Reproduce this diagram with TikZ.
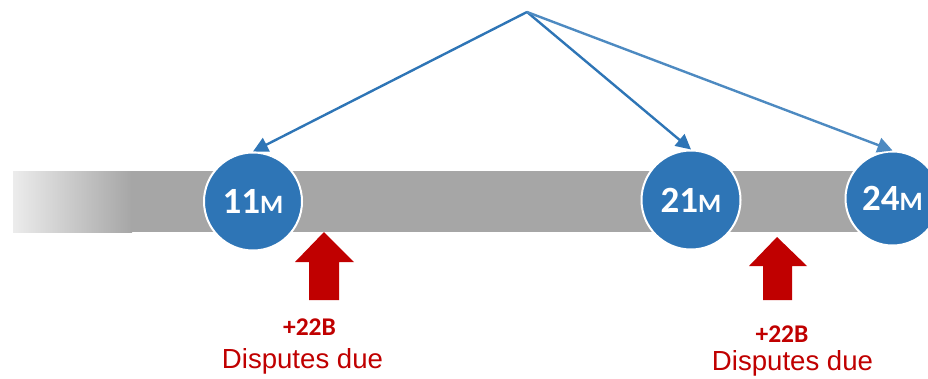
\documentclass[tikz,border=0pt]{standalone}
\usepackage{fontspec}
\setmainfont{Liberation Sans}
\newfontfamily\calib{Carlito}
\usetikzlibrary{arrows.meta}
\definecolor{cblue}{HTML}{2E75B6}
\definecolor{cgray}{HTML}{A6A6A6}
\definecolor{cred}{HTML}{C00000}
\begin{document}
\begin{tikzpicture}[x=1pt,y=-1pt,
  milestone/.style={circle,fill=cblue,draw=white,line width=2pt,inner sep=0pt,
    text=white,font=\calib\bfseries},
  pointer/.style={draw=cblue,line width=2.4pt,-{Triangle[length=15pt,width=15pt]}},
  amount/.style={text=cred,font=\calib\bfseries\fontsize{25.5}{30}\selectfont,anchor=base,inner sep=0pt},
  note/.style={text=cred,font=\fontsize{27.6}{32}\selectfont,anchor=base,inner sep=0pt},
  blockarrow/.style={fill=cred,draw=none}]
\useasboundingbox (0,0) rectangle (928,378);
% timeline bar
\shade[left color=gray!15,right color=cgray,shading angle=90] (13,171) rectangle (132,232.5);
\fill[cgray] (131,171) rectangle (893,232);
% milestones
\node[milestone,minimum size=98pt] (c11) at (253,201.5) {\fontsize{37}{40}\selectfont 11\fontsize{26.5}{30}\selectfont M};
\node[milestone,minimum size=99pt] (c21) at (691,200) {\fontsize{37}{40}\selectfont 21\fontsize{26.5}{30}\selectfont M};
\node[milestone,minimum size=94pt] (c24) at (892.5,198.5) {\fontsize{37}{40}\selectfont 24\fontsize{26.5}{30}\selectfont M};
% pointers
\coordinate (apex) at (527,12);
\draw[pointer] (apex) -- (c11.north);
\draw[pointer] (apex) -- (c21.north);
\draw[pointer,draw=cblue!85!white] (apex) -- (c24.north);
% red block arrows
\fill[blockarrow] (324,232) -- (354,262) -- (339,262) -- (339,300) -- (309,300) -- (309,262) -- (295,262) -- cycle;
\fill[blockarrow] (777,237) -- (807,266) -- (792,266) -- (792,300) -- (763,300) -- (763,266) -- (749,266) -- cycle;
% labels
\node[amount] (a1) at (309.5,335) {+22B};
\node[note] (d1) at (302.5,368) {Disputes due};
\node[amount] (a2) at (782,342) {+22B};
\node[note] (d2) at (792.5,370.5) {Disputes due};
\end{tikzpicture}
\end{document}
